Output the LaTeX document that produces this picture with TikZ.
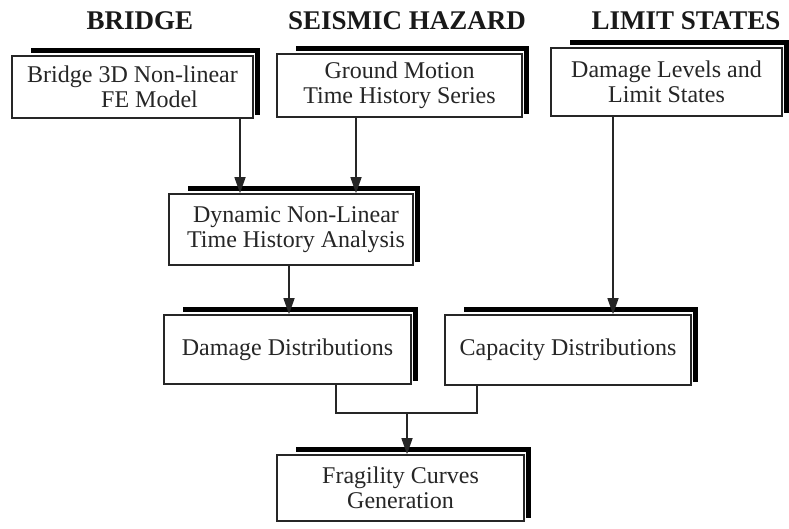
\documentclass[tikz,border=0pt]{standalone}
\usepackage{fontspec}
\setmainfont{Liberation Serif}
\usetikzlibrary{arrows.meta}
\newcommand\boxshadow[1]{\draw[shadowband] ([shift={(20,-4.5)}]#1.north west) -- ([shift={(3.5,-4.5)}]#1.north east) -- ([shift={(3.5,-4)}]#1.south east);}
\begin{document}
\begin{tikzpicture}[x=1pt,y=-1pt,
  box/.style={draw=black!85, line width=1.6pt, fill=white, align=center, inner sep=0pt,
    font=\fontsize{24}{25}\selectfont, text=black!85},
  head/.style={font=\bfseries\fontsize{27}{30}\selectfont, anchor=base, text=black!90},
  conn/.style={line width=1.4pt, draw=black!85, line join=miter},
  arr/.style={conn, -{Triangle[length=16pt,width=11pt]}},
  shadowband/.style={line width=5pt, draw=black, line join=miter}]
\useasboundingbox (0,0) rectangle (789,528);

% headings
\node[head] (h1) at (140,29) {BRIDGE};
\node[head] (h2) at (407,29) {SEISMIC HAZARD};
\node[head] (h3) at (686,29) {LIMIT STATES};

% boxes
\node[box, minimum width=241pt, minimum height=62pt] (b1) at (132.5,87) {Bridge 3D Non-linear\\\hspace*{34pt}FE Model};
\node[box, minimum width=245pt, minimum height=63pt] (b2) at (399.5,85.5) {Ground Motion\\Time History Series};
\node[box, minimum width=231pt, minimum height=68pt] (b3) at (666.5,82) {Damage Levels and\\Limit States};
\node[box, minimum width=244pt, minimum height=71pt] (dyn) at (291,229.5) {\hspace*{10pt}Dynamic Non-Linear\\\hspace*{10pt}Time History Analysis};
\node[box, minimum width=247pt, minimum height=69pt] (dmg) at (287.5,349.5) {Damage Distributions};
\node[box, minimum width=246pt, minimum height=70pt] (cap) at (568,350) {Capacity Distributions};
\node[box, minimum width=247pt, minimum height=66pt] (fra) at (400.5,488) {Fragility Curves\\Generation};

% shadows
\boxshadow{b1}
\boxshadow{b2}
\boxshadow{b3}
\boxshadow{dyn}
\boxshadow{dmg}
\boxshadow{cap}
\boxshadow{fra}

% connector positions
\coordinate (xa) at (240,0);
\coordinate (xb) at (356,0);
\coordinate (xc) at (613,0);
\coordinate (xd) at (289,0);
\coordinate (jl) at (336,413);
\coordinate (jr) at (477,413);
\coordinate (jm) at (407,413);

% connectors
\draw[arr] (b1.south -| xa) -- (dyn.north -| xa);
\draw[arr] (b2.south -| xb) -- (dyn.north -| xb);
\draw[arr] (b3.south -| xc) -- (cap.north -| xc);
\draw[arr] (dyn.south -| xd) -- (dmg.north -| xd);
\draw[conn] (dmg.south -| jl) -- (jl) -- (jr) -- (cap.south -| jr);
\draw[arr] (jm) -- (fra.north -| jm);
\end{tikzpicture}
\end{document}
